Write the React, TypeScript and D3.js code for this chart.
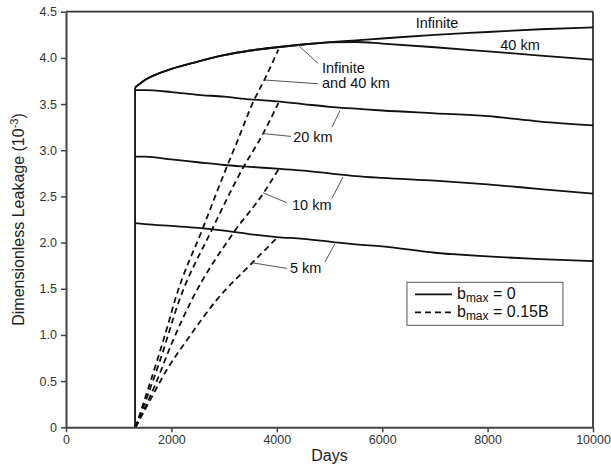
import { useEffect, useRef } from 'react';
import * as d3 from 'd3';

// axis ticks
const xTicks = [0, 2000, 4000, 6000, 8000, 10000];
const yTicks = [0, 0.5, 1, 1.5, 2, 2.5, 3, 3.5, 4, 4.5];

// solid curves (bmax = 0), values in 10^-3
const solidDays = [1310, 1500, 2000, 2500, 3000, 3500, 4000, 4500, 5000, 5500, 6000, 7000, 8000, 9000, 10000];
const solidInfinite = [3.68, 3.76, 3.88, 3.96, 4.03, 4.08, 4.115, 4.145, 4.17, 4.19, 4.21, 4.25, 4.28, 4.31, 4.33];
const solid40km = [3.68, 3.76, 3.88, 3.96, 4.03, 4.08, 4.115, 4.145, 4.168, 4.172, 4.155, 4.115, 4.07, 4.025, 3.98];
const solid20km = [3.65, 3.65, 3.63, 3.6, 3.58, 3.55, 3.53, 3.5, 3.47, 3.45, 3.43, 3.4, 3.37, 3.31, 3.27];
const solid10km = [2.93, 2.93, 2.9, 2.87, 2.84, 2.82, 2.8, 2.78, 2.75, 2.72, 2.7, 2.67, 2.63, 2.58, 2.53];
const solid5km = [2.21, 2.2, 2.18, 2.16, 2.13, 2.09, 2.06, 2.04, 2.01, 1.98, 1.96, 1.89, 1.85, 1.82, 1.8];

// the step at injection start
const jumpDays = [1310, 1310];
const jumpValues = [0, 3.68];

// dashed curves (bmax = 0.15B)
const dashInfDays = [1320, 1560, 1750, 1940, 2070, 2600, 3030, 3260, 3550, 3780, 4030];
const dashInfValues = [0, 0.42, 0.76, 1.12, 1.38, 2.16, 2.79, 3.11, 3.52, 3.78, 4.09];
const dash20Days = [1320, 1800, 2140, 2770, 3340, 3740, 4030];
const dash20Values = [0, 0.75, 1.36, 2.14, 2.79, 3.18, 3.51];
const dash10Days = [1320, 1700, 2000, 2370, 3170, 3740, 4040];
const dash10Values = [0, 0.47, 0.9, 1.36, 2.1, 2.53, 2.8];
const dash5Days = [1320, 1630, 1910, 2290, 2860, 3550, 4020];
const dash5Values = [0, 0.33, 0.62, 0.94, 1.38, 1.79, 2.06];

// curve labels, positioned in data units
const labelTexts = ['Infinite', '40 km', 'Infinite', 'and 40 km', '20 km', '10 km', '5 km'];
const labelDays = [7040, 8615, 4858, 4858, 4310, 4288, 4250];
const labelValues = [4.32, 4.08, 3.835, 3.67, 3.09, 2.35, 1.67];
const labelAnchors = ['middle', 'middle', 'start', 'start', 'start', 'start', 'start'];

// leader lines [day1, value1, day2, value2]
const leaders = [
  [4402, 4.14, 4782, 3.94],
  [3776, 3.76, 4782, 3.72],
  [3738, 3.18, 4269, 3.15],
  [5199, 3.43, 5047, 3.25],
  [3738, 2.54, 4194, 2.43],
  [5256, 2.71, 5047, 2.48],
  [3548, 1.78, 4194, 1.72],
  [5104, 1.99, 4915, 1.79],
];

const width = 611;
const height = 464;
const margin = { top: 11.7, right: 18, bottom: 36.7, left: 66 };
const font = '"Liberation Sans", Arial, sans-serif';

export default function App() {
  const svgRef = useRef<SVGSVGElement>(null);

  useEffect(() => {
    if (!svgRef.current) return;
    const svg = d3.select(svgRef.current);
    svg.selectAll('*').remove();

    const x = d3.scaleLinear().domain([0, 10000]).range([margin.left, width - margin.right]);
    const y = d3.scaleLinear().domain([0, 4.5]).range([height - margin.bottom, margin.top]);

    const line = d3
      .line<[number, number]>()
      .x((d) => x(d[0]))
      .y((d) => y(d[1]))
      .curve(d3.curveMonotoneX);
    const straight = d3
      .line<[number, number]>()
      .x((d) => x(d[0]))
      .y((d) => y(d[1]));

    const zip = (xs: number[], ys: number[]) => xs.map((d, i) => [d, ys[i]] as [number, number]);

    // frame top / right
    svg.append('line')
      .attr('x1', x(0)).attr('x2', x(10000))
      .attr('y1', y(4.5)).attr('y2', y(4.5))
      .attr('stroke', '#333').attr('stroke-width', 1.8);
    svg.append('line')
      .attr('x1', x(10000)).attr('x2', x(10000))
      .attr('y1', y(4.5)).attr('y2', y(0))
      .attr('stroke', '#333').attr('stroke-width', 1.8);

    // solid curves
    [solidInfinite, solid40km, solid20km, solid10km, solid5km].forEach((vals) => {
      svg.append('path')
        .datum(zip(solidDays, vals))
        .attr('fill', 'none')
        .attr('stroke', '#111')
        .attr('stroke-width', 1.8)
        .attr('d', line);
    });
    svg.append('path')
      .datum(zip(jumpDays, jumpValues))
      .attr('fill', 'none')
      .attr('stroke', '#111')
      .attr('stroke-width', 1.8)
      .attr('d', straight);

    // dashed curves
    [
      zip(dashInfDays, dashInfValues),
      zip(dash20Days, dash20Values),
      zip(dash10Days, dash10Values),
      zip(dash5Days, dash5Values),
    ].forEach((pts) => {
      svg.append('path')
        .datum(pts)
        .attr('fill', 'none')
        .attr('stroke', '#111')
        .attr('stroke-width', 1.8)
        .attr('stroke-dasharray', '6,4')
        .attr('d', line);
    });

    // leaders
    svg.selectAll('.leader')
      .data(leaders)
      .enter()
      .append('line')
      .attr('class', 'leader')
      .attr('x1', (d) => x(d[0]))
      .attr('y1', (d) => y(d[1]))
      .attr('x2', (d) => x(d[2]))
      .attr('y2', (d) => y(d[3]))
      .attr('stroke', '#555')
      .attr('stroke-width', 1);

    // curve labels
    svg.selectAll('.curve-label')
      .data(labelTexts)
      .enter()
      .append('text')
      .attr('class', 'curve-label')
      .attr('x', (_, i) => x(labelDays[i]))
      .attr('y', (_, i) => y(labelValues[i]))
      .attr('text-anchor', (_, i) => labelAnchors[i])
      .attr('font-family', font)
      .attr('font-size', 14.5)
      .attr('fill', '#111')
      .text((d) => d);

    // axes
    const xAxis = d3
      .axisBottom(x)
      .tickValues(xTicks)
      .tickSize(5)
      .tickSizeOuter(0)
      .tickPadding(3)
      .tickFormat(d3.format('d') as any);
    const yAxis = d3
      .axisLeft(y)
      .tickValues(yTicks)
      .tickSize(5)
      .tickSizeOuter(0)
      .tickPadding(4)
      .tickFormat((d) => (+d === 0 ? '0' : (+d).toFixed(1)));

    const gx = svg.append('g').attr('transform', `translate(0,${y(0)})`).call(xAxis);
    const gy = svg.append('g').attr('transform', `translate(${x(0)},0)`).call(yAxis);
    [gx, gy].forEach((g) => {
      g.select('.domain').attr('stroke', '#444').attr('stroke-width', 2);
      g.selectAll('.tick line').attr('stroke', '#444').attr('stroke-width', 1.5);
      g.selectAll('.tick text')
        .attr('fill', '#333')
        .attr('font-family', font)
        .attr('font-size', 12.5);
    });

    // axis titles
    svg.append('text')
      .attr('x', (x(0) + x(10000)) / 2)
      .attr('y', height - 3)
      .attr('text-anchor', 'middle')
      .attr('font-family', font)
      .attr('font-size', 16)
      .attr('fill', '#222')
      .text('Days');

    const yt = svg.append('text')
      .attr('transform', `translate(24,${(y(0) + y(4.5)) / 2}) rotate(-90)`)
      .attr('text-anchor', 'middle')
      .attr('font-family', font)
      .attr('font-size', 16)
      .attr('fill', '#222');
    yt.append('tspan').text('Dimensionless Leakage (10');
    yt.append('tspan').attr('font-size', 11).attr('dy', -6).text('-3');
    yt.append('tspan').attr('dy', 6).text(')');

    // legend
    const lg = svg.append('g').attr('transform', `translate(${x(6470)},${y(1.57)})`);
    lg.append('rect')
      .attr('width', 156)
      .attr('height', 43)
      .attr('fill', '#fff')
      .attr('stroke', '#555')
      .attr('stroke-width', 1);
    const legendItems = [
      { dash: null, label: '0' },
      { dash: '6,4', label: '0.15B' },
    ];
    legendItems.forEach((it, i) => {
      const cy = 12 + i * 18;
      lg.append('line')
        .attr('x1', 8).attr('x2', 45)
        .attr('y1', cy).attr('y2', cy)
        .attr('stroke', '#111')
        .attr('stroke-width', 1.8)
        .attr('stroke-dasharray', it.dash);
      const t = lg.append('text')
        .attr('x', 50)
        .attr('y', cy + 5)
        .attr('font-family', font)
        .attr('font-size', 16)
        .attr('fill', '#111');
      t.append('tspan').text('b');
      t.append('tspan').attr('font-size', 12).attr('dy', 3).text('max');
      t.append('tspan').attr('dy', -3).text(` = ${it.label}`);
    });
  }, []);

  return (
    <svg
      ref={svgRef}
      width={width}
      height={height}
      style={{ position: 'absolute', left: 0, top: 0, display: 'block', background: '#fff' }}
    />
  );
}
